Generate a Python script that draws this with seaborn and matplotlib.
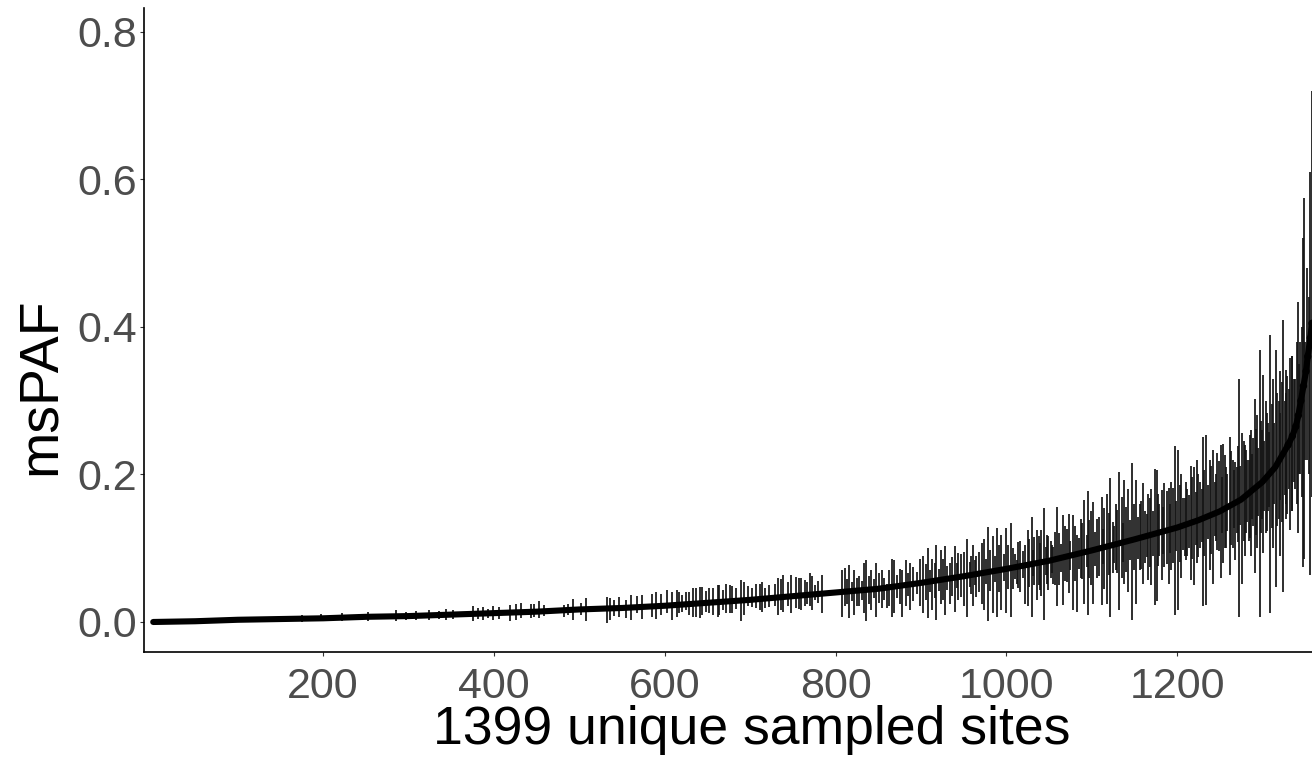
import numpy as np
import pandas as pd
import seaborn as sns
import matplotlib.pyplot as plt

# mean msPAF per site (sites ranked by mean)
mean_site = [1, 50, 100, 150, 200, 250, 300, 350, 400, 450, 500, 550, 600, 650, 700,
             750, 800, 850, 900, 950, 1000, 1050, 1100, 1150, 1200, 1225, 1250, 1275,
             1300, 1315, 1325, 1330, 1335, 1339, 1342, 1345, 1348, 1351, 1353, 1356, 1358]
mean_val = [0.000, 0.001, 0.003, 0.004, 0.005, 0.007, 0.008, 0.010, 0.012, 0.014, 0.017,
            0.019, 0.022, 0.026, 0.030, 0.035, 0.040, 0.045, 0.053, 0.062, 0.072, 0.083,
            0.097, 0.112, 0.128, 0.138, 0.150, 0.166, 0.190, 0.210, 0.230, 0.240, 0.252,
            0.265, 0.280, 0.300, 0.320, 0.340, 0.360, 0.385, 0.405]

# error bars (long ones): site, lower, upper
bar_site = [175, 197, 222, 252, 285, 297, 309, 324, 336, 344, 352, 375, 381, 387, 393, 399, 406,
            419, 426, 432, 443, 447, 453, 459, 482, 487, 492, 502, 508, 532, 536, 541, 546, 555,
            561, 567, 573, 585, 590, 596, 603, 608, 614, 617, 625, 633, 637, 641, 644, 652, 662,
            664, 672, 679, 689, 698, 707, 711, 717, 729, 733, 739, 748, 754, 760, 764, 770, 776,
            784, 808, 811, 816, 822, 828, 833, 836, 842, 848, 854, 860, 866, 868, 878, 882, 887,
            899, 903, 908, 913, 918, 923, 928, 934, 940, 944, 951, 954, 961, 965, 971, 974, 978,
            984, 989, 994, 1000, 1005, 1008, 1012, 1016, 1022, 1025, 1030, 1033, 1036, 1039, 1041,
            1044, 1049, 1052, 1055, 1059, 1062, 1066, 1069, 1073, 1078, 1083, 1087, 1091, 1096,
            1099, 1102, 1106, 1112, 1115, 1118, 1122, 1125, 1128, 1132, 1135, 1138, 1143, 1147,
            1152, 1156, 1160, 1163, 1166, 1170, 1174, 1176, 1179, 1182, 1185, 1190, 1193, 1197,
            1201, 1205, 1209, 1212, 1216, 1220, 1223, 1227, 1230, 1234, 1238, 1242, 1245, 1247,
            1251, 1254, 1257, 1262, 1265, 1268, 1270, 1273, 1276, 1279, 1281, 1284, 1286, 1289,
            1291, 1294, 1297, 1299, 1301, 1304, 1306, 1309, 1312, 1316, 1319, 1321, 1324, 1327,
            1329, 1332, 1335, 1338, 1342, 1344, 1347, 1349, 1352, 1356, 1358]
bar_lo = [0.000, 0.001, 0.001, 0.002, 0.002, 0.003, 0.003, 0.003, 0.004, 0.003, 0.004, 0.002,
          0.004, 0.003, 0.005, 0.003, 0.004,
          0.001, 0.003, 0.006, 0.005, 0.007, 0.005, 0.008, 0.007, 0.010, 0.003, 0.010, 0.002,
          -0.002, 0.003, 0.008, 0.007, 0.005, 0.003, 0.012, 0.004, 0.007, 0.004, 0.010, 0.012,
          0.003, 0.007, 0.012, 0.016, 0.007, 0.007, 0.005, 0.010, 0.012, 0.007, 0.010, 0.012,
          0.012, 0.001, 0.021, 0.019, 0.016, 0.019, 0.021, 0.010, 0.014, 0.012, 0.019, 0.016,
          0.021, 0.021, 0.030,
          0.012, 0.007, 0.021, 0.005, 0.010, 0.021, 0.012, 0.001, 0.016, 0.007, 0.019, 0.019,
          0.007, 0.012, 0.007, 0.021, 0.016, 0.021, 0.012, 0.005, 0.016, 0.003, 0.025, 0.010,
          0.025, 0.014, 0.030, 0.021, 0.007, 0.021, 0.034, 0.025, 0.016, 0.001, 0.012, 0.007,
          0.016, 0.012, 0.007, 0.045, 0.052, 0.040, 0.025, 0.021, 0.007, 0.050, 0.030, 0.043,
          0.035, 0.003, 0.043, 0.060, 0.052, 0.021, 0.050, 0.023, 0.055, 0.039, 0.016, 0.014,
          0.060, 0.025, 0.010, 0.050, 0.025, 0.060, 0.023, 0.045, 0.025, 0.007, 0.066, 0.070,
          0.016, 0.060, 0.052, 0.040, 0.003, 0.025, 0.070, 0.052, 0.080, 0.057, 0.050, 0.023,
          0.028, 0.090, 0.057, 0.075, 0.052, 0.070, 0.010, 0.016, 0.060, 0.089, 0.090, 0.057,
          0.050, 0.080, 0.100, 0.021, 0.023, 0.070, 0.052, 0.110, 0.098, 0.060, 0.080, 0.100,
          0.064, 0.100, 0.084, 0.120, 0.007, 0.052, 0.090, 0.120, 0.110, 0.089, 0.130, 0.066,
          0.100, 0.007, 0.140, 0.093, 0.120, 0.150, 0.012, 0.100, 0.048, 0.140, 0.090, 0.041,
          0.160, 0.147, 0.125, 0.150, 0.180, 0.120, 0.200, 0.075, 0.085, 0.220, 0.064, 0.170]
bar_hi = [0.010, 0.011, 0.012, 0.013, 0.016, 0.014, 0.015, 0.016, 0.015, 0.017, 0.016, 0.021,
          0.019, 0.020, 0.018, 0.021, 0.020,
          0.023, 0.025, 0.026, 0.024, 0.025, 0.028, 0.023, 0.023, 0.025, 0.031, 0.026, 0.032,
          0.034, 0.033, 0.030, 0.034, 0.030, 0.037, 0.035, 0.037, 0.038, 0.040, 0.038, 0.043,
          0.041, 0.043, 0.041, 0.041, 0.046, 0.046, 0.047, 0.047, 0.046, 0.050, 0.050, 0.052,
          0.049, 0.057, 0.049, 0.052, 0.051, 0.046, 0.052, 0.059, 0.064, 0.064, 0.061, 0.059,
          0.057, 0.066, 0.050,
          0.064, 0.071, 0.073, 0.077, 0.071, 0.062, 0.080, 0.084, 0.071, 0.080, 0.071, 0.052,
          0.085, 0.084, 0.071, 0.084, 0.080, 0.085, 0.089, 0.100, 0.086, 0.104, 0.098, 0.103,
          0.080, 0.103, 0.093, 0.095, 0.113, 0.104, 0.089, 0.107, 0.113, 0.129, 0.116, 0.127,
          0.118, 0.127, 0.134, 0.100, 0.084, 0.110, 0.104, 0.125, 0.143, 0.115, 0.125, 0.107,
          0.125, 0.154, 0.116, 0.110, 0.102, 0.156, 0.120, 0.145, 0.130, 0.147, 0.145, 0.118,
          0.140, 0.165, 0.177, 0.150, 0.163, 0.140, 0.170, 0.155, 0.174, 0.195, 0.136, 0.160,
          0.204, 0.170, 0.193, 0.180, 0.215, 0.193, 0.160, 0.188, 0.150, 0.174, 0.180, 0.208,
          0.206, 0.160, 0.179, 0.188, 0.181, 0.190, 0.238, 0.233, 0.200, 0.168, 0.180, 0.211,
          0.210, 0.220, 0.190, 0.251, 0.254, 0.220, 0.233, 0.200, 0.229, 0.240, 0.242, 0.210,
          0.251, 0.220, 0.217, 0.210, 0.330, 0.256, 0.240, 0.233, 0.220, 0.260, 0.250, 0.303,
          0.280, 0.369, 0.260, 0.335, 0.300, 0.270, 0.389, 0.330, 0.369, 0.300, 0.340, 0.410,
          0.310, 0.333, 0.358, 0.360, 0.330, 0.434, 0.380, 0.520, 0.575, 0.480, 0.610, 0.720]

# shorter error bars that pile up around the curve
dense_site = [620, 628, 648, 657, 668, 676, 684, 693, 702, 714, 722, 736, 744, 757, 767, 773, 780,
              813, 819, 825, 831, 839, 845, 851, 857, 863, 872, 875, 885, 891, 895, 906, 911, 916,
              921, 926, 931, 937, 942, 947, 957, 959, 963, 968, 976, 981, 987, 992, 997, 1002,
              1010, 1014, 1019, 1027, 1031, 1038, 1046, 1048, 1054, 1057, 1064, 1071, 1075, 1080,
              1085, 1089, 1094, 1097, 1104, 1109, 1113, 1120, 1126, 1130, 1137, 1140, 1145, 1150,
              1154, 1158, 1165, 1168, 1172, 1178, 1184, 1188, 1192, 1195, 1199, 1203, 1207, 1211,
              1214, 1218, 1222, 1225, 1229, 1232, 1236, 1240, 1244, 1249, 1253, 1256, 1259, 1263,
              1267, 1271, 1274, 1278, 1282, 1285, 1288, 1292, 1295, 1298, 1302, 1305, 1308, 1311,
              1314, 1317, 1320, 1323, 1326, 1328, 1331, 1334, 1337, 1340, 1343, 1346, 1350, 1354]
dense_lo = [0.014, 0.010, 0.014, 0.010, 0.016, 0.012, 0.018, 0.010, 0.020, 0.014, 0.020, 0.016,
            0.022, 0.018, 0.024, 0.016, 0.026,
            0.025, 0.028, 0.022, 0.030, 0.024, 0.032, 0.026, 0.030, 0.022, 0.033, 0.025, 0.035,
            0.028, 0.038, 0.030, 0.040, 0.032, 0.042, 0.030, 0.044, 0.035, 0.046, 0.034, 0.048,
            0.038, 0.050, 0.040, 0.052, 0.042, 0.054, 0.040, 0.055, 0.045,
            0.058, 0.046, 0.060, 0.048, 0.062, 0.050, 0.064, 0.052, 0.066, 0.050, 0.068, 0.054,
            0.070, 0.056, 0.072, 0.058, 0.074, 0.060, 0.076, 0.062, 0.078, 0.064, 0.080, 0.066,
            0.082, 0.068, 0.084, 0.070, 0.086, 0.072, 0.088, 0.074, 0.090, 0.076, 0.092, 0.078,
            0.094, 0.080, 0.096, 0.082, 0.098, 0.084, 0.100, 0.086, 0.104, 0.088, 0.108, 0.090,
            0.112, 0.092, 0.116, 0.096, 0.120, 0.100, 0.124, 0.104, 0.128, 0.108, 0.132, 0.110,
            0.136, 0.114, 0.140, 0.118, 0.144, 0.120, 0.150, 0.124, 0.156, 0.128, 0.160, 0.130,
            0.166, 0.136, 0.172, 0.140, 0.180, 0.150, 0.190, 0.160, 0.200, 0.170, 0.220, 0.200]
dense_hi = [0.036, 0.040, 0.042, 0.046, 0.044, 0.050, 0.046, 0.054, 0.046, 0.054, 0.050, 0.058,
            0.054, 0.060, 0.054, 0.062, 0.056,
            0.058, 0.054, 0.060, 0.055, 0.062, 0.058, 0.066, 0.060, 0.070, 0.064, 0.072, 0.066,
            0.075, 0.068, 0.078, 0.070, 0.080, 0.072, 0.085, 0.076, 0.088, 0.080, 0.092, 0.082,
            0.090, 0.084, 0.095, 0.086, 0.098, 0.090, 0.104, 0.092, 0.104,
            0.092, 0.108, 0.096, 0.112, 0.098, 0.116, 0.102, 0.118, 0.104, 0.122, 0.106, 0.126,
            0.110, 0.130, 0.114, 0.134, 0.118, 0.138, 0.122, 0.142, 0.126, 0.148, 0.130, 0.152,
            0.134, 0.156, 0.138, 0.160, 0.142, 0.164, 0.146, 0.168, 0.150, 0.174, 0.156, 0.178,
            0.160, 0.182, 0.164, 0.186, 0.168, 0.190, 0.172, 0.196, 0.176, 0.200, 0.180, 0.206,
            0.186, 0.212, 0.190, 0.218, 0.196, 0.226, 0.200, 0.232, 0.206, 0.238, 0.212, 0.246,
            0.220, 0.254, 0.228, 0.262, 0.236, 0.272, 0.246, 0.284, 0.258, 0.296, 0.270, 0.310,
            0.284, 0.326, 0.300, 0.342, 0.316, 0.360, 0.330, 0.380, 0.350, 0.400, 0.380, 0.440]

means = pd.DataFrame({'site': mean_site, 'msPAF': mean_val})
bars = pd.DataFrame({'site': bar_site + dense_site,
                     'lo': bar_lo + dense_lo,
                     'hi': bar_hi + dense_hi})

sns.set_style('ticks')
plt.rcParams['font.family'] = ['Liberation Sans', 'DejaVu Sans']

fig = plt.figure(figsize=(13.12, 7.66), dpi=100)
ax = fig.add_axes([144 / 1312, 1 - 652 / 766, 1 - 144 / 1312, (652 - 8) / 766])

ax.vlines(bars['site'], bars['lo'], bars['hi'], color='#141414', linewidth=1.25, zorder=2)
sns.lineplot(data=means, x='site', y='msPAF', color='black', linewidth=4.4, ax=ax, zorder=3)
sns.scatterplot(data=means[means['site'] >= 1330], x='site', y='msPAF', color='black',
                s=28, edgecolor='none', ax=ax, zorder=3)

ax.set_xlim(-9.8, 1358)
ax.set_ylim(-0.0407, 0.8325)
ax.set_xticks([200, 400, 600, 800, 1000, 1200])
ax.set_yticks([0.0, 0.2, 0.4, 0.6, 0.8])
ax.set_yticklabels(['0.0', '0.2', '0.4', '0.6', '0.8'])

for side in ['top', 'right']:
    ax.spines[side].set_visible(False)
for side in ['left', 'bottom']:
    ax.spines[side].set_color('black')
    ax.spines[side].set_linewidth(1.2)

ax.tick_params(axis='both', labelsize=31, labelcolor='#4d4d4d', color='#333333',
               length=3, width=0.8)
ax.tick_params(axis='x', pad=8)
ax.tick_params(axis='y', pad=2)

ax.set_xlabel('1399 unique sampled sites', fontsize=38.5, color='black')
ax.set_ylabel('msPAF', fontsize=40, color='black')
ax.xaxis.set_label_coords(0.52, -0.082)
ax.yaxis.set_label_coords(-0.066, 0.413)

fig.savefig('out.png', dpi=100)
